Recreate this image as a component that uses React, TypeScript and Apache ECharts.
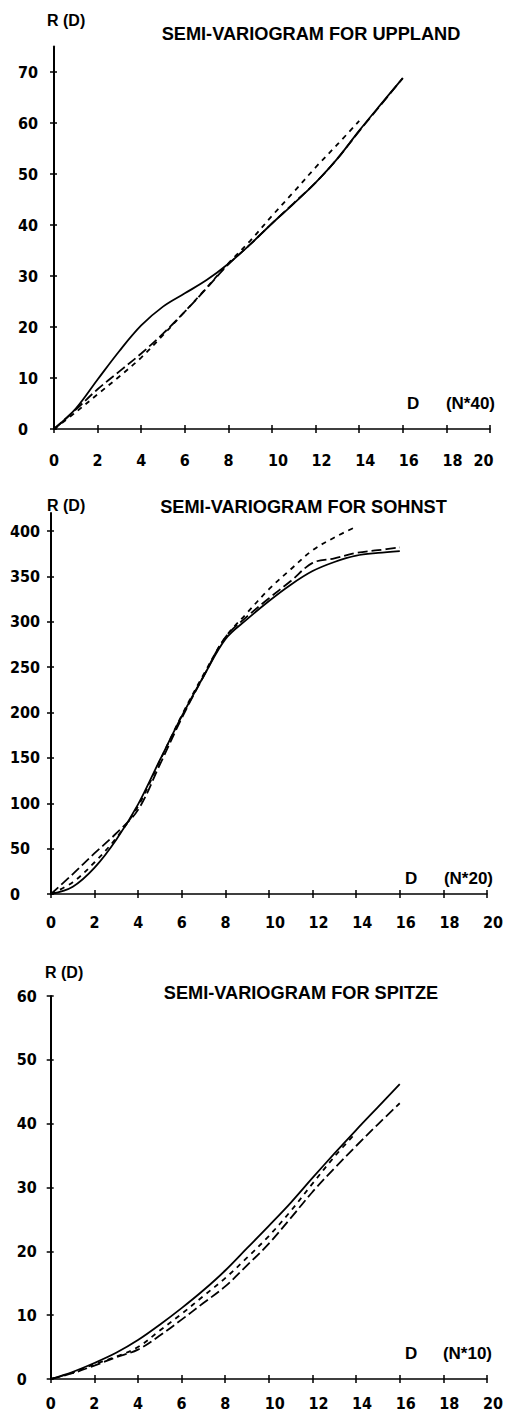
import React, { useEffect, useRef } from "react";
import * as echarts from "echarts";

// ---- data ----
const distances = [0, 1, 2, 3, 4, 5, 6, 7, 8, 9, 10, 11, 12, 13, 14, 15, 16];

const upplandSolid = [0, 4.0, 9.7, 15.3, 20.3, 24.0, 26.6, 29.2, 32.4, 36.2, 40.3, 44.2, 48.3, 53.0, 58.5, 63.7, 68.8];
const upplandLong = [0, 3.8, 7.8, 11.3, 14.8, 18.7, 23.0, 27.6, 32.3, 36.2, 40.3, 44.3, 48.3, 53.0, 58.4, 63.6, 68.8];
const upplandShort = [0, 3.3, 6.8, 10.3, 14.0, 18.4, 23.0, 27.7, 32.5, 36.9, 41.8, 46.5, 51.3, 55.8, 60.4];
const upplandYTicks = [0, 10, 20, 30, 40, 50, 60, 70];

const sohnstSolid = [0, 8, 29, 60, 99, 148, 196, 240, 281, 303, 323, 341, 356, 366, 373, 376, 378];
const sohnstLong = [0, 22, 45, 67, 93, 143, 194, 240, 283, 306, 326, 345, 365, 370, 376, 379, 382];
const sohnstShort = [0, 13, 35, 62, 97, 147, 197, 242, 283, 310, 336, 358, 379, 393, 405];
const sohnstYTicks = [0, 50, 100, 150, 200, 250, 300, 350, 400];

const spitzeSolid = [0, 1.1, 2.5, 4.1, 6.1, 8.5, 11.1, 13.9, 17.0, 20.5, 24.0, 27.6, 31.5, 35.3, 39.0, 42.6, 46.2];
const spitzeLong = [0, 0.9, 2.1, 3.4, 4.6, 6.8, 9.3, 11.9, 14.5, 17.8, 21.2, 25.2, 29.3, 33.0, 36.5, 39.9, 43.2];
const spitzeShort = [0, 1.0, 2.3, 3.5, 5.0, 7.6, 10.2, 13.0, 15.8, 19.0, 22.4, 26.3, 30.6, 34.8, 38.6];
const spitzeYTicks = [0, 10, 20, 30, 40, 50, 60];

const titles = ["SEMI-VARIOGRAM FOR UPPLAND", "SEMI-VARIOGRAM FOR SOHNST", "SEMI-VARIOGRAM FOR SPITZE"];
const unitLabels = ["(N*40)", "(N*20)", "(N*10)"];

// ---- layout ----
const TICK_FONT = "'Liberation Sans Narrow','DejaVu Sans Condensed','Liberation Sans',Arial,sans-serif";
const TEXT_FONT = "'Liberation Sans',Arial,sans-serif";

const panels = [
  {
    grid: { left: 54, top: 46.5, width: 436, height: 382.5 },
    yMax: 75, yTicks: upplandYTicks, yMargin: 36, xMargin: 23, twentyShift: -1,
    series: [upplandSolid, upplandLong, upplandShort],
    title: { x: 311, y: 34 }, r: { x: 47, y: 20 }, d: { x: 407, y: 403 }, unit: { x: 495, y: 403 },
  },
  {
    grid: { left: 51, top: 513, width: 436, height: 381 },
    yMax: 420, yTicks: sohnstYTicks, yMargin: 41, xMargin: 20, twentyShift: 1,
    series: [sohnstSolid, sohnstLong, sohnstShort],
    title: { x: 303.5, y: 507 }, r: { x: 47, y: 505 }, d: { x: 405, y: 878 }, unit: { x: 493, y: 878 },
  },
  {
    grid: { left: 50.7, top: 996, width: 436.3, height: 383 },
    yMax: 60, yTicks: spitzeYTicks, yMargin: 34, xMargin: 16, twentyShift: 1,
    series: [spitzeSolid, spitzeLong, spitzeShort],
    title: { x: 301, y: 993 }, r: { x: 45, y: 972 }, d: { x: 405, y: 1353 }, unit: { x: 492, y: 1353 },
  },
];

const labelBase = { fontSize: 16, fontWeight: "bold" as const, color: "#000", fontFamily: TICK_FONT };

function buildOption() {
  const grid: any[] = [];
  const xAxis: any[] = [];
  const yAxis: any[] = [];
  const series: any[] = [];
  const graphic: any[] = [];

  panels.forEach((p, i) => {
    grid.push({ ...p.grid, containLabel: false });
    // primary x axis (line, labels, outer ticks)
    xAxis.push({
      type: "value", gridIndex: i, min: 0, max: 20, interval: 2, position: "bottom",
      axisLine: { show: true, onZero: false, lineStyle: { color: "#000", width: 1.5 } },
      axisTick: { show: true, inside: false, length: 4, lineStyle: { color: "#000", width: 1.5 } },
      splitLine: { show: false },
      axisLabel: {
        ...labelBase, margin: p.xMargin, showMinLabel: true, showMaxLabel: true,
        formatter: (v: number) => {
          if (v === 20) return p.twentyShift < 0 ? `{l|${v}}` : `{r|${v}}`;
          return v >= 10 ? `{r|${v}}` : `{c|${v}}`;
        },
        rich: {
          c: { ...labelBase },
          r: { ...labelBase, padding: [0, 0, 0, 12] },
          l: { ...labelBase, padding: [0, 13, 0, 0] },
        },
      },
    });
    // secondary x axis (inner ticks)
    xAxis.push({
      type: "value", gridIndex: i, min: 0, max: 20, interval: 2, position: "bottom",
      axisLine: { show: false, onZero: false },
      axisTick: { show: true, inside: true, length: 4, lineStyle: { color: "#000", width: 1.5 } },
      axisLabel: { show: false }, splitLine: { show: false },
    });
    // primary y axis
    yAxis.push({
      type: "value", gridIndex: i, min: 0, max: p.yMax, position: "left",
      axisLine: { show: true, onZero: false, lineStyle: { color: "#000", width: 2 } },
      axisTick: { show: true, inside: false, length: 4, customValues: p.yTicks, lineStyle: { color: "#000", width: 1.5 } },
      splitLine: { show: false },
      axisLabel: { ...labelBase, align: "left", margin: p.yMargin, customValues: p.yTicks },
    });
    // secondary y axis (inner ticks)
    yAxis.push({
      type: "value", gridIndex: i, min: 0, max: p.yMax, position: "left",
      axisLine: { show: false, onZero: false },
      axisTick: { show: true, inside: true, length: 3, customValues: p.yTicks, lineStyle: { color: "#000", width: 1.5 } },
      axisLabel: { show: false }, splitLine: { show: false },
    });

    const styles = [
      { type: "solid", width: 1.8 },
      { type: [10, 4], width: 1.8 },
      { type: [5, 5], width: 1.8 },
    ];
    p.series.forEach((vals, k) => {
      series.push({
        type: "line",
        xAxisIndex: 2 * i,
        yAxisIndex: 2 * i,
        data: vals.map((v, j) => [distances[j], v]),
        showSymbol: false,
        symbol: "none",
        smooth: 0.35,
        lineStyle: { color: "#000", ...styles[k] },
        silent: true,
      });
    });

    graphic.push({
      type: "text", x: p.title.x, y: p.title.y,
      style: { text: titles[i], fill: "#000", font: `bold 18.2px ${TEXT_FONT}`, align: "center", verticalAlign: "middle" },
    });
    graphic.push({
      type: "text", x: p.r.x, y: p.r.y,
      style: { text: "R (D)", fill: "#000", font: `bold 16px ${TEXT_FONT}`, align: "left", verticalAlign: "middle" },
    });
    graphic.push({
      type: "text", x: p.d.x, y: p.d.y,
      style: { text: "D", fill: "#000", font: `bold 17px ${TEXT_FONT}`, align: "left", verticalAlign: "middle" },
    });
    graphic.push({
      type: "text", x: p.unit.x, y: p.unit.y,
      style: { text: unitLabels[i], fill: "#000", font: `bold 17px ${TEXT_FONT}`, align: "right", verticalAlign: "middle" },
    });
  });

  return {
    animation: false,
    backgroundColor: "#fff",
    grid, xAxis, yAxis, series, graphic,
  };
}

export default function App() {
  const ref = useRef<HTMLDivElement>(null);
  useEffect(() => {
    if (!ref.current) return;
    const chart = echarts.init(ref.current, undefined, { renderer: "svg" });
    chart.setOption(buildOption() as any);
    return () => chart.dispose();
  }, []);
  return (
    <div
      ref={ref}
      style={{ position: "absolute", left: 0, top: 0, width: 508, height: 1424, background: "#fff" }}
    />
  );
}
